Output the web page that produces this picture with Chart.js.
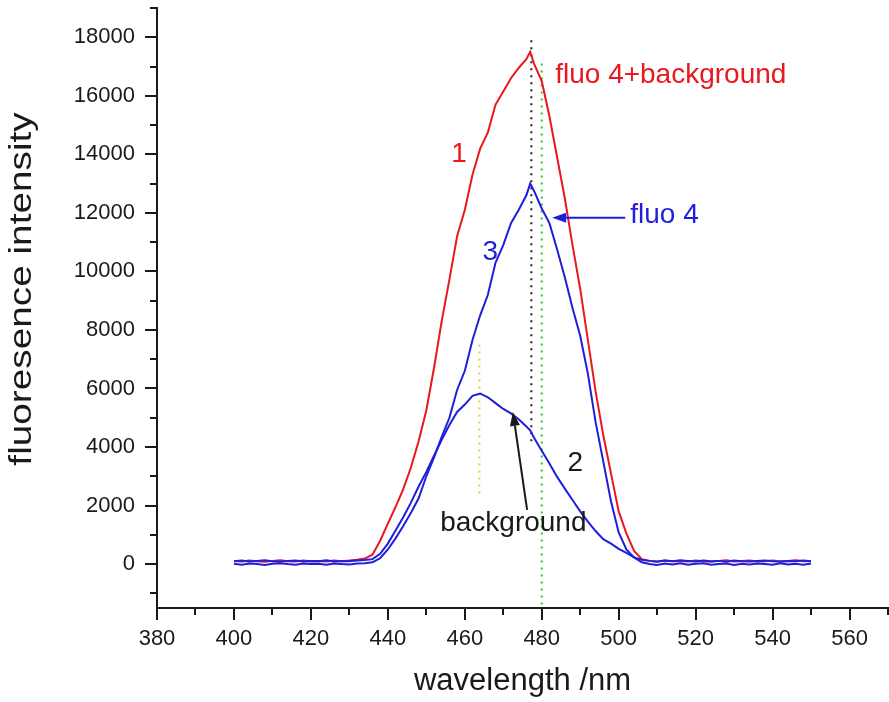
<!DOCTYPE html>
<html>
<head>
<meta charset="utf-8">
<script src="https://cdn.jsdelivr.net/npm/chart.js@4.4.1/dist/chart.umd.min.js"></script>
<style>
  html, body { margin: 0; padding: 0; background: #fff; }
  #wrap { width: 889px; height: 702px; }
</style>
</head>
<body>
<div id="wrap"><canvas id="spectrum" width="889" height="702"></canvas></div>
<script>
// Emission spectra (wavelength in nm)
const wavelength = [
  400, 402, 404, 406, 408, 410, 412, 414, 416, 418,
  420, 422, 424, 426, 428, 430, 432, 434, 436, 438,
  440, 442, 444, 446, 448, 450, 452, 454, 456, 458,
  460, 462, 464, 466, 468, 470, 472, 474, 476, 477,
  478, 480, 482, 484, 486, 488, 490, 492, 494, 496,
  498, 500, 502, 504, 506, 508, 510, 512, 514, 516,
  518, 520, 522, 524, 526, 528, 530, 532, 534, 536,
  538, 540, 542, 544, 546, 548, 550
];

// curve 1: fluo 4 + background
const fluoPlusBackground = [
  110, 90, 120, 100, 80, 110, 130, 100, 90, 120,
  100, 110, 90, 120, 100, 120, 150, 190, 320, 800,
  1380, 1950, 2560, 3300, 4200, 5250, 6700, 8300, 9720, 11200,
  12100, 13300, 14200, 14750, 15700, 16150, 16600, 16950, 17250, 17500,
  17100, 16500, 15300, 13900, 12500, 10900, 9400, 7650, 5900, 4400,
  3100, 1800, 1050, 450, 170, 110, 80, 120, 100, 110,
  90, 120, 100, 80, 110, 130, 90, 110, 120, 90,
  100, 120, 90, 110, 130, 100, 110
];

// curve 3: fluo 4
const fluo4 = [
  10, -20, 20, 0, -30, 10, 30, 0, -20, 20,
  0, 10, -20, 20, 0, -10, 20, 30, 60, 200,
  500, 880, 1300, 1750, 2250, 3000, 3650, 4350, 5000, 5950,
  6600, 7660, 8500, 9200, 10300, 10900, 11650, 12100, 12600, 13000,
  12750, 12150, 11650, 10750, 9800, 8750, 7800, 6500, 4850, 3500,
  2150, 1080, 500, 230, 60, 0, -30, 20, -10, 30,
  -20, 10, 30, -20, 0, 20, -30, 10, -10, 20,
  0, -20, 30, -10, 10, -20, 20
];

// curve 2: background
const background = [
  100, 120, 90, 110, 130, 100, 80, 110, 120, 90,
  110, 100, 130, 90, 110, 100, 120, 140, 170, 350,
  700, 1150, 1600, 2100, 2650, 3150, 3700, 4250, 4750, 5200,
  5450, 5750, 5830, 5700, 5500, 5300, 5150, 4950, 4700, 4570,
  4320, 3870, 3440, 2980, 2580, 2190, 1800, 1450, 1130, 850,
  700, 520, 380, 230, 150, 110, 90, 120, 100, 130,
  110, 90, 120, 100, 110, 80, 120, 100, 90, 110,
  120, 100, 90, 110, 100, 120, 100
];

const xTicks = [380, 400, 420, 440, 460, 480, 500, 520, 540, 560];
const xMinorTicks = [390, 410, 430, 450, 470, 490, 510, 530, 550, 570];
const yTicks = [0, 2000, 4000, 6000, 8000, 10000, 12000, 14000, 16000, 18000];
const yMinorTicks = [-1000, 1000, 3000, 5000, 7000, 9000, 11000, 13000, 15000, 17000, 19000];

const RED = 'rgb(232,24,30)';
const BLUE = 'rgb(30,30,220)';
const INK = '#1a1a1a';
const FONT = '"Liberation Sans", Arial, sans-serif';
const Y_TITLE = 'fluoresence intensity';

function points(ys) {
  return wavelength.map((x, i) => ({ x: x, y: ys[i] }));
}

// outward major/minor tick marks on both axes
const tickMarks = {
  id: 'tickMarks',
  afterDraw(chart) {
    const { ctx, chartArea: area, scales: { x, y } } = chart;
    ctx.save();
    ctx.strokeStyle = INK;
    ctx.lineWidth = 2;
    ctx.beginPath();
    xTicks.concat(xMinorTicks).forEach(v => {
      const px = Math.round(x.getPixelForValue(v));
      const len = xTicks.includes(v) ? 12 : 7;
      ctx.moveTo(px, area.bottom);
      ctx.lineTo(px, area.bottom + len);
    });
    yTicks.concat(yMinorTicks).forEach(v => {
      const py = Math.round(y.getPixelForValue(v));
      const len = yTicks.includes(v) ? 12 : 7;
      ctx.moveTo(area.left, py);
      ctx.lineTo(area.left - len, py);
    });
    ctx.stroke();

    // y title, drawn a bit stretched along its length
    ctx.fillStyle = INK;
    ctx.font = '31px ' + FONT;
    ctx.textAlign = 'center';
    ctx.textBaseline = 'middle';
    ctx.translate(22, (area.top + area.bottom) / 2 - 19);
    ctx.rotate(-Math.PI / 2);
    ctx.scale(1.25, 1);
    ctx.fillText(Y_TITLE, 0, 0);
    ctx.restore();
  }
};

// dotted guide lines, curve numbers, labels and arrows
const guides = [
  { x: 477.3, from: 17900, to: 4100, color: '#222' },
  { x: 480, from: 17100, to: -1500, color: 'rgb(40,200,40)' },
  { x: 463.8, from: 7500, to: 2400, color: 'rgb(215,215,60)' }
];
const notes = [
  { text: '1', x: 458.5, y: 14000, color: RED, align: 'center' },
  { text: '3', x: 466.6, y: 10660, color: BLUE, align: 'center' },
  { text: '2', x: 488.7, y: 3450, color: INK, align: 'center' },
  { text: 'fluo 4+background', x: 483.5, y: 16700, color: RED, align: 'left' },
  { text: 'fluo 4', x: 503, y: 11920, color: BLUE, align: 'left' },
  { text: 'background', x: 453.6, y: 1400, color: INK, align: 'left' }
];
const arrows = [
  { from: [501.7, 11830], to: [482.7, 11830], color: BLUE },
  { from: [476.2, 1850], to: [472.5, 5200], color: INK }
];

const annotations = {
  id: 'annotations',
  beforeDatasetsDraw(chart) {
    const { ctx, scales: { x, y } } = chart;
    ctx.save();
    ctx.lineWidth = 2;
    ctx.setLineDash([2, 5]);
    guides.forEach(g => {
      const px = x.getPixelForValue(g.x);
      ctx.strokeStyle = g.color;
      ctx.beginPath();
      ctx.moveTo(px, y.getPixelForValue(g.from));
      ctx.lineTo(px, y.getPixelForValue(g.to));
      ctx.stroke();
    });
    ctx.restore();
  },
  afterDraw(chart) {
    const { ctx, scales: { x, y } } = chart;
    ctx.save();
    ctx.font = '28px ' + FONT;
    ctx.textBaseline = 'middle';
    notes.forEach(n => {
      ctx.fillStyle = n.color;
      ctx.textAlign = n.align;
      ctx.fillText(n.text, x.getPixelForValue(n.x), y.getPixelForValue(n.y));
    });
    arrows.forEach(a => {
      const x0 = x.getPixelForValue(a.from[0]), y0 = y.getPixelForValue(a.from[1]);
      const x1 = x.getPixelForValue(a.to[0]), y1 = y.getPixelForValue(a.to[1]);
      const ang = Math.atan2(y1 - y0, x1 - x0);
      const head = 14, half = 5;
      const bx = x1 - head * Math.cos(ang), by = y1 - head * Math.sin(ang);
      ctx.strokeStyle = a.color;
      ctx.fillStyle = a.color;
      ctx.lineWidth = 2;
      ctx.beginPath();
      ctx.moveTo(x0, y0);
      ctx.lineTo(bx, by);
      ctx.stroke();
      ctx.beginPath();
      ctx.moveTo(x1, y1);
      ctx.lineTo(bx + half * Math.sin(ang), by - half * Math.cos(ang));
      ctx.lineTo(bx - half * Math.sin(ang), by + half * Math.cos(ang));
      ctx.closePath();
      ctx.fill();
    });
    ctx.restore();
  }
};

const ctx = document.getElementById('spectrum').getContext('2d');
new Chart(ctx, {
  type: 'line',
  data: {
    datasets: [
      { label: 'fluo 4+background', data: points(fluoPlusBackground), borderColor: RED, order: 2 },
      { label: 'fluo 4', data: points(fluo4), borderColor: BLUE, order: 1 },
      { label: 'background', data: points(background), borderColor: BLUE, order: 1 }
    ]
  },
  options: {
    responsive: false,
    animation: false,
    devicePixelRatio: 1,
    layout: { padding: { top: 8, right: 1, left: 0, bottom: 0 } },
    elements: {
      line: { borderWidth: 2, tension: 0, fill: false },
      point: { radius: 0 }
    },
    plugins: { legend: { display: false }, tooltip: { enabled: false } },
    scales: {
      x: {
        type: 'linear',
        min: 380,
        max: 570,
        afterBuildTicks: s => { s.ticks = xTicks.map(v => ({ value: v })); },
        afterFit: s => { s.height = 94; s.paddingLeft = 0; s.paddingRight = 0; },
        grid: { drawOnChartArea: false, tickLength: 12, color: 'rgba(0,0,0,0)' },
        border: { color: INK, width: 2 },
        ticks: { font: { family: FONT, size: 22 }, color: INK, padding: 6, maxRotation: 0, autoSkip: false,
                 callback: v => String(v) },
        title: { display: true, text: 'wavelength /nm', color: INK,
                 font: { family: FONT, size: 31 }, padding: { top: 0, bottom: 2 } }
      },
      y: {
        min: -1500,
        max: 19000,
        afterBuildTicks: s => { s.ticks = yTicks.map(v => ({ value: v })); },
        afterFit: s => { s.width = 157; s.paddingTop = 0; s.paddingBottom = 0; },
        grid: { drawOnChartArea: false, tickLength: 12, color: 'rgba(0,0,0,0)' },
        border: { color: INK, width: 2 },
        ticks: { font: { family: FONT, size: 22 }, color: INK, padding: 10, autoSkip: false,
                 callback: v => String(v) },
        title: { display: false }
      }
    }
  },
  plugins: [tickMarks, annotations]
});
</script>
</body>
</html>
